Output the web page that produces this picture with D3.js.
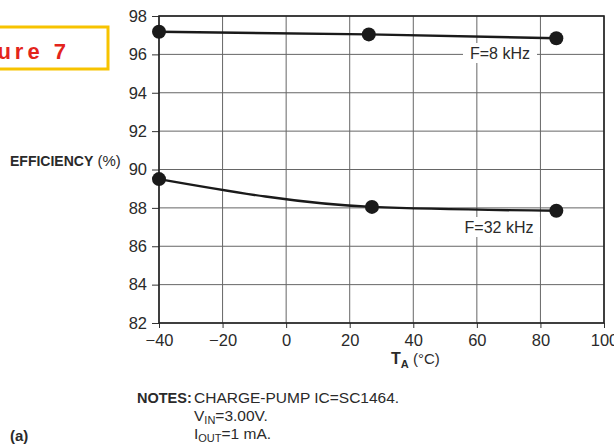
<!DOCTYPE html>
<html>
<head>
<meta charset="utf-8">
<script src="https://cdn.jsdelivr.net/npm/d3@7"></script>
<style>
  body { margin: 0; background: #fff; }
  text { font-family: "Liberation Sans", Arial, sans-serif; fill: #2a2a2a; }
  .narrow { font-family: "Liberation Sans Narrow", "Liberation Sans", sans-serif; }
</style>
</head>
<body>
<script>
// temperature (°C) and efficiency (%)
var tempsSlow = [-40, 26, 85];
var effSlow = [97.18, 97.04, 96.84];     // F=8 kHz
var tempsFast = [-40, 27, 85];
var effFast = [89.5, 88.05, 87.85];      // F=32 kHz

var xTicks = [-40, -20, 0, 20, 40, 60, 80, 100];
var yTicks = [82, 84, 86, 88, 90, 92, 94, 96, 98];

var width = 614;
var height = 445;
var svg = d3.select("body")
  .append("svg")
  .attr("width", width)
  .attr("height", height);

var xScale = d3.scaleLinear().domain([-40, 100]).range([159, 604]);
var yScale = d3.scaleLinear().domain([82, 98]).range([323, 16]);

var x0 = xScale.range()[0], x1 = xScale.range()[1];
var yTop = yScale.range()[1], yBot = yScale.range()[0];

// grid
svg.append("g")
  .selectAll("line.v")
  .data(xTicks)
  .enter()
  .append("line")
  .attr("x1", function(d) { return xScale(d); })
  .attr("x2", function(d) { return xScale(d); })
  .attr("y1", yTop)
  .attr("y2", yBot)
  .style("stroke", "#666")
  .style("stroke-width", 1);

svg.append("g")
  .selectAll("line.h")
  .data(yTicks)
  .enter()
  .append("line")
  .attr("x1", x0)
  .attr("x2", x1)
  .attr("y1", function(d) { return yScale(d); })
  .attr("y2", function(d) { return yScale(d); })
  .style("stroke", "#666")
  .style("stroke-width", 1);

// axes
var xAxis = d3.axisBottom(xScale).tickValues(xTicks).tickSize(5).tickPadding(6);
var yAxis = d3.axisLeft(yScale).tickValues(yTicks).tickSize(7).tickPadding(5);

var gx = svg.append("g")
  .attr("transform", "translate(0," + yBot + ")")
  .call(xAxis);
var gy = svg.append("g")
  .attr("transform", "translate(" + x0 + ",0)")
  .call(yAxis);

[gx, gy].forEach(function(g) {
  g.select(".domain").remove();
  g.selectAll("line").style("stroke", "#333");
  g.selectAll("text")
    .style("font-family", "Liberation Sans, Arial, sans-serif")
    .style("font-size", "16.5px")
    .style("fill", "#2a2a2a");
});

// frame
svg.append("rect")
  .attr("x", x0)
  .attr("y", yTop)
  .attr("width", x1 - x0)
  .attr("height", yBot - yTop)
  .style("fill", "none")
  .style("stroke", "#222")
  .style("stroke-width", 1.6);

// series labels with white backing
function seriesLabel(label, cx, cy, w) {
  svg.append("rect")
    .attr("x", cx - w / 2)
    .attr("y", cy - 10)
    .attr("width", w)
    .attr("height", 20)
    .style("fill", "#fff");
  svg.append("text")
    .attr("x", cx)
    .attr("y", cy + 5.5)
    .attr("text-anchor", "middle")
    .style("font-size", "16px")
    .text(label);
}
seriesLabel("F=8 kHz", 500, 53, 74);
seriesLabel("F=32 kHz", 499, 227, 82);

// lines and dots
function drawSeries(temps, effs, curve) {
  var pts = temps.map(function(t, i) { return [t, effs[i]]; });
  var line = d3.line()
    .x(function(d) { return xScale(d[0]); })
    .y(function(d) { return yScale(d[1]); })
    .curve(curve);
  svg.append("path")
    .datum(pts)
    .attr("d", line)
    .style("fill", "none")
    .style("stroke", "#1a1a1a")
    .style("stroke-width", 2.4);
  svg.selectAll(null)
    .data(pts)
    .enter()
    .append("circle")
    .attr("cx", function(d) { return xScale(d[0]); })
    .attr("cy", function(d) { return yScale(d[1]); })
    .attr("r", 7)
    .style("fill", "#1a1a1a");
}
drawSeries(tempsSlow, effSlow, d3.curveLinear);
drawSeries(tempsFast, effFast, d3.curveMonotoneX);

// y axis title
var yt = svg.append("text")
  .attr("x", 10)
  .attr("y", 166);
yt.append("tspan")
  .attr("class", "narrow")
  .style("font-weight", "bold")
  .style("font-size", "14px")
  .text("EFFICIENCY");
yt.append("tspan")
  .style("font-size", "15px")
  .text(" (%)");

// x axis title
var xt = svg.append("text")
  .attr("x", 391)
  .attr("y", 364);
xt.append("tspan")
  .attr("class", "narrow")
  .style("font-weight", "bold")
  .style("font-size", "16px")
  .text("T");
xt.append("tspan")
  .attr("class", "narrow")
  .attr("dy", 4)
  .style("font-weight", "bold")
  .style("font-size", "11px")
  .text("A");
xt.append("tspan")
  .attr("dy", -4)
  .style("font-size", "15px")
  .text(" (\u00B0C)");

// figure tag, cut by the left edge
svg.append("rect")
  .attr("x", -10)
  .attr("y", 27)
  .attr("width", 118)
  .attr("height", 42)
  .style("fill", "none")
  .style("stroke", "#f7c300")
  .style("stroke-width", 3);
svg.append("text")
  .attr("x", 70)
  .attr("y", 59)
  .attr("text-anchor", "end")
  .style("font-weight", "bold")
  .style("font-size", "22px")
  .style("letter-spacing", "4px")
  .style("fill", "#e3241b")
  .text("Figure 7");

// notes
var noteX = 194;
svg.append("text")
  .attr("x", 137)
  .attr("y", 403)
  .attr("class", "narrow")
  .style("font-weight", "bold")
  .style("font-size", "14.5px")
  .text("NOTES:");
svg.append("text")
  .attr("x", noteX)
  .attr("y", 403)
  .style("font-size", "15.5px")
  .text("CHARGE-PUMP IC=SC1464.");
var v = svg.append("text").attr("x", noteX).attr("y", 421).style("font-size", "15.5px");
v.append("tspan").text("V");
v.append("tspan").attr("dy", 3).style("font-size", "11px").text("IN");
v.append("tspan").attr("dy", -3).text("=3.00V.");
var io = svg.append("text").attr("x", noteX).attr("y", 439).style("font-size", "15.5px");
io.append("tspan").text("I");
io.append("tspan").attr("dy", 3).style("font-size", "11px").text("OUT");
io.append("tspan").attr("dy", -3).text("=1 mA.");

svg.append("text")
  .attr("x", 10)
  .attr("y", 441)
  .attr("class", "narrow")
  .style("font-weight", "bold")
  .style("font-size", "15px")
  .text("(a)");
</script>
</body>
</html>
